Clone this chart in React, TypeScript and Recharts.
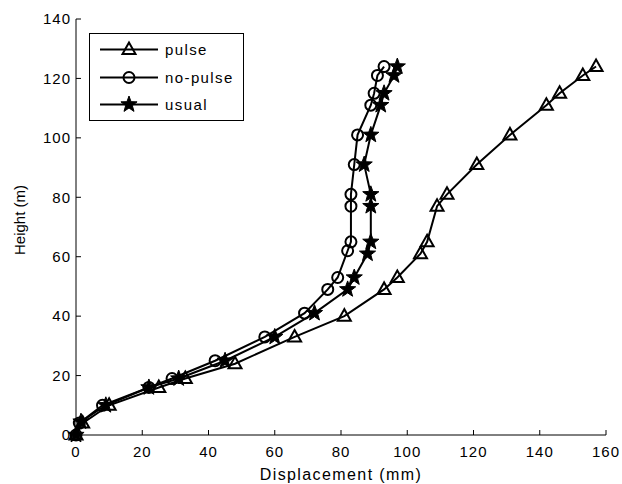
import React from "react";
import { LineChart, Line, XAxis, YAxis, Legend } from "recharts";

// displacement (mm) / height (m)
const pulseDisp = [0, 2, 10, 25, 33, 48, 66, 81, 93, 97, 104, 106, 109, 112, 121, 131, 142, 146, 153, 157];
const pulseHeight = [0, 4, 10, 16, 19, 24, 33, 40, 49, 53, 61, 65, 77, 81, 91, 101, 111, 115, 121, 124];

const noPulseDisp = [0, 1, 8, 22, 29, 42, 57, 69, 76, 79, 82, 83, 83, 83, 84, 85, 89, 90, 91, 93];
const noPulseHeight = [0, 4, 10, 16, 19, 25, 33, 41, 49, 53, 62, 65, 77, 81, 91, 101, 111, 115, 121, 124];

const usualDisp = [0, 1.5, 9, 22, 31, 45, 60, 72, 82, 84, 88, 89, 89, 89, 87, 89, 92, 93, 96, 97];
const usualHeight = [0, 4.5, 10, 16, 19, 25, 33, 41, 49, 53, 61, 65, 77, 81, 91, 101, 111, 115, 121, 124];

const xTicks = [0, 20, 40, 60, 80, 100, 120, 140, 160];
const yTicks = [0, 20, 40, 60, 80, 100, 120, 140];

const seriesNames = ["pulse", "no-pulse", "usual"];

const zip = (xs: number[], ys: number[]) => xs.map((d, i) => ({ d, h: ys[i] }));

const pulseData = zip(pulseDisp, pulseHeight);
const noPulseData = zip(noPulseDisp, noPulseHeight);
const usualData = zip(usualDisp, usualHeight);

const FONT = "'Liberation Sans', Arial, sans-serif";

function Triangle({ cx, cy }: { cx: number; cy: number }) {
  const pts = `${cx},${cy - 7} ${cx - 6.5},${cy + 4.5} ${cx + 6.5},${cy + 4.5}`;
  return <polygon points={pts} fill="none" stroke="#000" strokeWidth={2} strokeLinejoin="miter" />;
}

function Ring({ cx, cy }: { cx: number; cy: number }) {
  return <circle cx={cx} cy={cy} r={5.5} fill="none" stroke="#000" strokeWidth={2} />;
}

function Star({ cx, cy }: { cx: number; cy: number }) {
  const pts: string[] = [];
  for (let i = 0; i < 10; i++) {
    const r = i % 2 === 0 ? 8.5 : 3.5;
    const a = -Math.PI / 2 + (i * Math.PI) / 5;
    pts.push(`${cx + r * Math.cos(a)},${cy + r * Math.sin(a)}`);
  }
  return <polygon points={pts.join(" ")} fill="#000" stroke="#000" strokeWidth={1} />;
}

const markers = [Triangle, Ring, Star];

const dotFor = (Marker: typeof Triangle) => (props: any) => {
  const { cx, cy, index } = props;
  if (cx == null || cy == null) return <g key={`m-${index}`} />;
  return (
    <g key={`m-${index}`}>
      <Marker cx={cx} cy={cy} />
    </g>
  );
};

function LegendBox() {
  return (
    <div
      style={{
        border: "1px solid #000",
        background: "#fff",
        width: 153,
        height: 84,
        paddingTop: 2,
        boxSizing: "content-box",
        fontFamily: FONT,
        fontSize: 15,
        letterSpacing: 1.4,
        color: "#000",
      }}
    >
      {seriesNames.map((name, i) => {
        const M = markers[i];
        return (
          <div key={name} style={{ height: 27.5, display: "flex", alignItems: "center" }}>
            <svg width={75} height={27} style={{ display: "block" }}>
              <line x1={10} y1={13.5} x2={68} y2={13.5} stroke="#000" strokeWidth={2} />
              <M cx={39} cy={13.5} />
            </svg>
            <span style={{ lineHeight: "27px" }}>{name}</span>
          </div>
        );
      })}
    </div>
  );
}

function YLabel(props: any) {
  const vb = props.viewBox || {};
  const x = 24.5;
  const y = (vb.y ?? 19) + (vb.height ?? 416) / 2 - 7;
  return (
    <text
      x={x}
      y={y}
      transform={`rotate(-90, ${x}, ${y})`}
      textAnchor="middle"
      fontFamily={FONT}
      fontSize={15}
      fill="#000"
    >
      Height (m)
    </text>
  );
}

export default function App() {
  const tickStyle = { fill: "#000", fontSize: 15, fontFamily: FONT, letterSpacing: 1 };
  return (
    <div style={{ position: "absolute", left: 0, top: 0, width: 622, height: 484, background: "#fff" }}>
      <LineChart width={622} height={484} margin={{ top: 19, right: 16, bottom: 0, left: 0 }}>
        <XAxis
          xAxisId="bottom"
          type="number"
          dataKey="d"
          domain={[0, 160]}
          ticks={xTicks}
          height={49}
          tickSize={-5}
          tickMargin={16}
          tick={tickStyle}
          stroke="#000"
          label={{
            value: "Displacement (mm)",
            position: "insideBottom",
            offset: 4,
            fill: "#000",
            fontSize: 16,
            fontFamily: FONT,
            letterSpacing: 1.4,
          }}
        />
        <XAxis
          xAxisId="top"
          orientation="top"
          type="number"
          domain={[0, 160]}
          ticks={xTicks}
          height={0}
          tickSize={-5}
          tick={false}
          stroke="#000"
        />
        <YAxis
          yAxisId="left"
          type="number"
          dataKey="h"
          domain={[0, 140]}
          ticks={yTicks}
          width={76}
          tickSize={-5}
          tickMargin={10}
          tick={tickStyle}
          stroke="#000"
          label={<YLabel />}
        />
        <YAxis
          yAxisId="right"
          orientation="right"
          type="number"
          domain={[0, 140]}
          ticks={yTicks}
          width={0}
          tickSize={-5}
          tick={false}
          stroke="#000"
        />
        <Legend
          layout="vertical"
          align="center"
          verticalAlign="middle"
          wrapperStyle={{ left: 89, top: 33, width: 155, height: 86 }}
          content={() => <LegendBox />}
        />
        <Line
          xAxisId="bottom"
          yAxisId="left"
          data={pulseData}
          dataKey="h"
          name="pulse"
          stroke="#000"
          strokeWidth={2}
          dot={dotFor(Triangle)}
          activeDot={false}
          isAnimationActive={false}
        />
        <Line
          xAxisId="bottom"
          yAxisId="left"
          data={noPulseData}
          dataKey="h"
          name="no-pulse"
          stroke="#000"
          strokeWidth={2}
          dot={dotFor(Ring)}
          activeDot={false}
          isAnimationActive={false}
        />
        <Line
          xAxisId="bottom"
          yAxisId="left"
          data={usualData}
          dataKey="h"
          name="usual"
          stroke="#000"
          strokeWidth={2}
          dot={dotFor(Star)}
          activeDot={false}
          isAnimationActive={false}
        />
      </LineChart>
    </div>
  );
}
